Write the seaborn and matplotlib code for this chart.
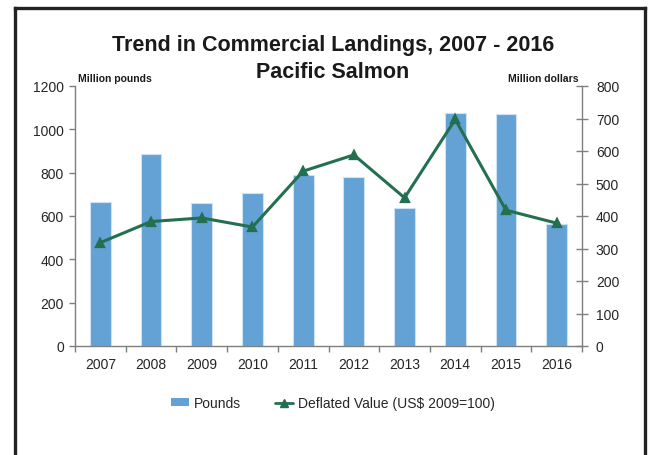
import numpy as np
import pandas as pd
import matplotlib
matplotlib.use("Agg")
import matplotlib.pyplot as plt
from matplotlib.lines import Line2D
from matplotlib.patches import Patch
from matplotlib.ticker import FixedLocator
import seaborn as sns

years = ["2007", "2008", "2009", "2010", "2011", "2012", "2013", "2014", "2015", "2016"]
pounds = [666, 887, 660, 707, 789, 781, 638, 1074, 1071, 562]
deflated_value = [318, 383, 394, 366, 538, 588, 456, 697, 418, 378]

title_line1 = "Trend in Commercial Landings, 2007 - 2016"
title_line2 = "Pacific Salmon"
left_label = "Million pounds"
right_label = "Million dollars"
bar_name = "Pounds"
line_name = "Deflated Value (US$ 2009=100)"

BAR_COLOR = "#64A2D6"
LINE_COLOR = "#22704F"
SPINE = "#7f7f7f"
TXT = "#262626"

sns.set_theme(style="white")
plt.rcParams["font.family"] = ["Liberation Sans", "DejaVu Sans"]

W, H = 650, 456
fig = plt.figure(figsize=(6.5, 4.56), dpi=100)
ax = fig.add_axes([75 / W, 1 - 347 / H, (582 - 75) / W, (347 - 87) / H])

df = pd.DataFrame({"year": years, "pounds": pounds, "value": deflated_value})
sns.barplot(data=df, x="year", y="pounds", color=BAR_COLOR, saturation=1,
            width=0.41, edgecolor="#cfe2f3", linewidth=0.8, ax=ax)
ax2 = ax.twinx()
sns.pointplot(data=df, x="year", y="value", color=LINE_COLOR, markers="^",
              markersize=6, linewidth=2.2, errorbar=None, ax=ax2)

ax.set_ylim(0, 1200)
ax2.set_ylim(0, 800)
ax.set_xlim(-0.5, len(years) - 0.5)
ax2.set_xlim(-0.5, len(years) - 0.5)
ax.set_yticks(np.arange(0, 1201, 200))
ax2.set_yticks(np.arange(0, 801, 100))
ax.set_xlabel("")
ax.set_ylabel("")
ax2.set_xlabel("")
ax2.set_ylabel("")

for a in (ax, ax2):
    for s in a.spines.values():
        s.set_color(SPINE)
        s.set_linewidth(1.0)
    a.spines["top"].set_visible(False)
    a.grid(False)
ax.spines["right"].set_visible(False)
ax2.spines["left"].set_visible(False)
ax2.spines["bottom"].set_visible(False)

ax.tick_params(axis="y", which="major", direction="out", length=4, width=1,
               color=SPINE, labelsize=10, labelcolor=TXT, pad=4, left=True)
ax2.tick_params(axis="y", which="major", direction="inout", length=8, width=1,
                color=SPINE, labelsize=10, labelcolor=TXT, pad=6, right=True)
ax.tick_params(axis="x", which="major", length=0, labelsize=10, labelcolor=TXT, pad=8)
ax.xaxis.set_minor_locator(FixedLocator(np.arange(-0.5, len(years), 1.0)))
ax.tick_params(axis="x", which="minor", direction="out", length=4, width=1,
               color=SPINE, bottom=True)
ax2.tick_params(axis="x", which="both", length=0, labelbottom=False, bottom=False)

fig.text(333 / W, 1 - 46 / H, title_line1, ha="center", va="center",
         fontsize=15.5, fontweight="bold", color="#1a1a1a")
fig.text(333 / W, 1 - 72 / H, title_line2, ha="center", va="center",
         fontsize=15.5, fontweight="bold", color="#1a1a1a")
fig.text(78 / W, 1 - 79 / H, left_label, ha="left", va="center",
         fontsize=7.5, fontweight="bold", color="#1a1a1a")
fig.text(579 / W, 1 - 79 / H, right_label, ha="right", va="center",
         fontsize=7.5, fontweight="bold", color="#1a1a1a")

handles = [Patch(facecolor=BAR_COLOR, edgecolor="none"),
           Line2D([0], [0], color=LINE_COLOR, lw=2, marker="^", markersize=6)]
fig.legend(handles, [bar_name, line_name], loc="center", ncol=2,
           bbox_to_anchor=(333 / W, 1 - 404 / H), frameon=False,
           fontsize=10, handlelength=1.3, handleheight=0.5,
           handletextpad=0.4, columnspacing=2.4, labelcolor=TXT)

# outer frame (open at bottom)
bc = "#222222"
fig.add_artist(Line2D([15 / W, 15 / W], [0, 1 - 9 / H], transform=fig.transFigure,
                      color=bc, lw=2.4, solid_capstyle="projecting"))
fig.add_artist(Line2D([15 / W, 645 / W], [1 - 9 / H, 1 - 9 / H], transform=fig.transFigure,
                      color=bc, lw=2.4, solid_capstyle="projecting"))
fig.add_artist(Line2D([645 / W, 645 / W], [0, 1 - 9 / H], transform=fig.transFigure,
                      color=bc, lw=2.4, solid_capstyle="projecting"))

fig.savefig("out.png", dpi=100)
